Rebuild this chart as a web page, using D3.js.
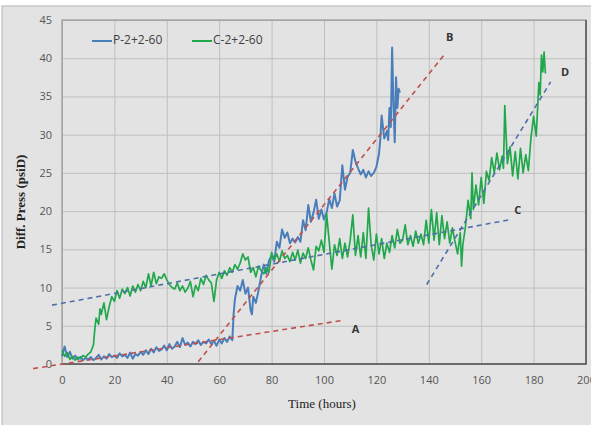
<!DOCTYPE html>
<html lang="en">
<head>
<meta charset="UTF-8">
<title>Diff. Press vs Time</title>
<script src="https://d3js.org/d3.v7.min.js"></script>
<style>
  body { margin: 0; padding: 0; background: #fff; }
  svg { display: block; }
  .tick text { font-family: "Open Sans", "Liberation Sans", sans-serif; font-size: 11px; fill: #555; }
  .grid line { stroke: #bfbfbf; stroke-width: 1; }
  .grid path { display: none; }
  .axis path { display: none; }
</style>
</head>
<body>
<div id="chart"></div>
<script>
// Series P-2+2-60 : [time (hours), diff. press (psiD)]
const pSeries = [
  [0,1.0],[1,2.3],[2,0.9],[3,1.6],[4,0.7],[5,1.1],[6,0.6],[7,0.9],[8,0.5],[9,0.8],
  [10,0.6],[11,0.9],[12,0.5],[13,0.8],[14,1.2],[15,0.6],[16,1.0],[17,0.7],[18,1.3],[19,0.9],
  [20,1.1],[21,0.8],[22,1.4],[23,1.0],[24,1.2],[25,0.8],[26,1.5],[27,0.7],[28,1.3],[29,1.1],
  [30,1.6],[31,1.2],[32,1.8],[33,1.3],[34,2.0],[35,1.5],[36,2.2],[37,1.7],[38,1.9],[39,2.4],
  [40,1.8],[41,2.6],[42,2.0],[43,2.3],[44,2.9],[45,2.2],[46,3.4],[47,2.5],[48,2.8],[49,2.3],
  [50,2.9],[51,2.6],[52,3.1],[53,2.5],[54,2.9],[55,2.7],[56,3.2],[57,2.6],[58,3.0],[59,2.4],
  [60,3.2],[61,2.7],[62,3.4],[63,2.9],[64,3.6],[65,3.1],[65.5,6.5],[66,8.5],[67,10.2],[68,9.6],
  [69,11.0],[70,9.2],[71,10.0],[72,7.0],[72.5,6.5],[73,8.8],[74,8.0],[75,9.6],[76,11.5],[77,13.0],
  [78,11.8],[79,13.5],[80,14.2],[81,13.4],[82,16.0],[83,15.2],[84,17.6],[85,16.5],[86,17.2],[87,15.8],
  [88,16.4],[89,15.9],[90,16.6],[91,16.0],[92,18.8],[93,17.5],[94,20.8],[95,18.6],[96,19.8],[97,21.5],
  [98,19.0],[99,20.2],[100,18.9],[101,19.8],[102,21.6],[103,20.4],[104,22.3],[105,20.6],[106,21.4],[107,26.0],
  [108,22.8],[109,24.5],[110,25.0],[111,28.0],[112,26.5],[113,25.6],[114,24.8],[115,25.4],[116,24.4],[117,25.2],
  [118,24.6],[119,25.0],[120,25.8],[121,27.5],[121.5,29.5],[122,32.5],[123,29.5],[124,30.5],[124.5,29.3],[125,33.5],
  [125.5,31.0],[126,41.4],[126.5,34.0],[127,29.0],[127.5,37.5],[128,33.5],[128.5,36.0],[129,35.5]
];

// Series C-2+2-60 : [time (hours), diff. press (psiD)]
const cSeries = [
  [0,1.8],[1,1.0],[2,1.5],[3,0.6],[4,1.0],[5,0.5],[6,0.9],[7,0.7],[8,1.1],[9,0.9],
  [10,1.3],[11,1.6],[12,2.5],[12.5,4.5],[13,6.0],[14,5.2],[14.5,7.2],[15,6.5],[16,8.0],[17,5.8],
  [18,7.5],[19,8.8],[20,8.2],[21,9.6],[22,8.6],[23,9.8],[24,9.2],[25,10.0],[26,8.9],[27,10.2],
  [28,9.4],[29,10.4],[30,9.6],[31,10.8],[32,10.0],[33,11.8],[34,10.2],[35,12.0],[36,10.5],[37,11.4],
  [38,11.2],[39,11.8],[40,11.0],[41,10.4],[42,10.0],[43,9.8],[44,10.6],[45,9.6],[46,10.2],[47,9.4],
  [48,9.9],[49,10.8],[50,8.8],[51,10.3],[52,9.6],[53,11.2],[54,10.4],[55,11.6],[56,11.0],[57,10.6],
  [58,8.2],[59,11.0],[60,12.0],[61,11.2],[62,12.2],[63,11.6],[64,12.6],[65,12.0],[66,13.0],[67,12.4],
  [68,13.2],[69,14.4],[70,13.6],[71,14.0],[72,12.0],[73,12.6],[74,11.4],[75,12.8],[76,12.2],[77,11.8],
  [78,12.6],[79,12.0],[80,14.6],[81,13.6],[82,14.4],[83,13.4],[84,14.8],[85,13.8],[86,14.2],[87,13.4],
  [88,14.6],[89,13.6],[90,14.9],[91,13.2],[92,14.5],[93,13.8],[94,15.2],[95,13.6],[96,12.3],[97,15.4],
  [98,14.8],[99,16.2],[100,14.6],[101,19.6],[102,16.0],[103,12.4],[104,15.6],[105,14.2],[106,16.4],[107,13.8],
  [108,15.8],[109,14.0],[110,16.2],[111,19.5],[112,14.2],[113,16.8],[114,14.0],[115,17.2],[116,13.8],[117,20.4],
  [118,15.6],[119,13.6],[120,17.0],[121,14.4],[122,16.4],[123,13.8],[124,15.8],[125,14.6],[126,16.8],[127,15.2],
  [128,17.6],[129,15.8],[130,16.2],[131,18.2],[132,15.6],[133,16.8],[134,15.4],[135,17.4],[136,15.8],[137,17.0],
  [138,15.6],[139,18.8],[140,15.8],[141,20.2],[142,16.2],[143,19.8],[144,15.6],[145,19.4],[146,16.4],[147,18.6],
  [148,15.8],[149,17.8],[150,16.0],[151,14.4],[152,17.2],[152.5,12.8],[153,15.6],[154,18.0],[155,21.4],[156,19.0],
  [156.5,25.0],[157,20.2],[158,23.4],[159,20.8],[160,24.4],[161,21.0],[162,25.2],[163,24.0],[164,27.0],[165,25.0],
  [166,27.6],[167,25.4],[168,27.2],[168.5,25.6],[169,33.8],[170,26.2],[171,28.4],[172,24.6],[173,27.8],[174,24.2],
  [175,28.2],[176,25.0],[177,27.4],[178,25.3],[179,29.6],[180,32.4],[181,29.8],[182,36.8],[182.5,35.2],[183,40.4],
  [183.5,38.2],[184,40.8],[184.5,38.0]
];

// dashed trend lines: [[t0, v0], [t1, v1]]
const trendLines = [
  { name: "A", pts: [[-11, -0.6], [107, 5.7]], color: "#c0504d", label: [112, 4.4] },
  { name: "B", pts: [[52, 0.3], [146, 40.5]], color: "#c0504d", label: [148, 42.6] },
  { name: "C", pts: [[-3.8, 7.7], [171.3, 18.9]], color: "#4f6fa8", label: [174, 20.0] },
  { name: "D", pts: [[139.2, 10.4], [186.5, 36.9]], color: "#4f6fa8", label: [192, 38.0] }
];

const legendItems = [
  { name: "P-2+2-60", color: "#4a7ebb" },
  { name: "C-2+2-60", color: "#21a84c" }
];

const xTicks = d3.range(0, 201, 20);
const yTicks = d3.range(0, 46, 5);

const W = 591, H = 425;
const plot = { left: 62, right: 586, top: 20, bottom: 364 };

const svg = d3.select("#chart").append("svg")
  .attr("width", W).attr("height", H);

// chart area background
svg.append("rect").attr("width", W).attr("height", H).attr("fill", "#ffffff");
svg.append("rect").attr("x", 2).attr("y", 6).attr("width", W).attr("height", H)
  .attr("fill", "#e3e3e3").attr("stroke", "#c8c8c8").attr("stroke-width", 1.5);

const x = d3.scaleLinear().domain([0, 200]).range([plot.left, plot.right]);
const y = d3.scaleLinear().domain([0, 45]).range([plot.bottom, plot.top]);

// gridlines
svg.append("g").attr("class", "grid")
  .attr("transform", `translate(0,${plot.bottom})`)
  .call(d3.axisBottom(x).tickValues(xTicks).tickSize(-(plot.bottom - plot.top)).tickFormat(""));
svg.append("g").attr("class", "grid")
  .attr("transform", `translate(${plot.left},0)`)
  .call(d3.axisLeft(y).tickValues(yTicks).tickSize(-(plot.right - plot.left)).tickFormat(""));

// plot border (darker on right and bottom)
svg.append("rect")
  .attr("x", plot.left).attr("y", plot.top)
  .attr("width", plot.right - plot.left).attr("height", plot.bottom - plot.top)
  .attr("fill", "none").attr("stroke", "#8c8c8c").attr("stroke-width", 1);
svg.append("path")
  .attr("d", `M${plot.right},${plot.top}V${plot.bottom}H${plot.left}`)
  .attr("fill", "none").attr("stroke", "#555").attr("stroke-width", 1.5);

// axes labels
svg.append("g").attr("class", "axis")
  .attr("transform", `translate(0,${plot.bottom})`)
  .call(d3.axisBottom(x).tickValues(xTicks).tickSize(0).tickPadding(12));
svg.append("g").attr("class", "axis")
  .attr("transform", `translate(${plot.left},0)`)
  .call(d3.axisLeft(y).tickValues(yTicks).tickSize(0).tickPadding(10));

// series
const line = d3.line().x(d => x(d[0])).y(d => y(d[1]));
svg.append("path").datum(pSeries)
  .attr("d", line).attr("fill", "none")
  .attr("stroke", legendItems[0].color).attr("stroke-width", 2).attr("stroke-linejoin", "round");
svg.append("path").datum(cSeries)
  .attr("d", line).attr("fill", "none")
  .attr("stroke", legendItems[1].color).attr("stroke-width", 1.7).attr("stroke-linejoin", "round");

// trend lines
trendLines.forEach(t => {
  svg.append("path").datum(t.pts)
    .attr("d", line).attr("fill", "none")
    .attr("stroke", t.color).attr("stroke-width", 1.6)
    .attr("stroke-dasharray", "5,4");
  svg.append("text")
    .attr("x", x(t.label[0])).attr("y", y(t.label[1]))
    .attr("text-anchor", "middle").attr("dominant-baseline", "middle")
    .attr("font-family", "Open Sans, Liberation Sans, sans-serif")
    .attr("font-size", 11).attr("font-weight", "bold").attr("fill", "#333")
    .text(t.name);
});

// legend
const legend = svg.append("g").attr("transform", "translate(92,41)");
legendItems.forEach((d, i) => {
  const g = legend.append("g").attr("transform", `translate(${i * 100},0)`);
  g.append("line").attr("x1", 0).attr("x2", 20).attr("y1", 0).attr("y2", 0)
    .attr("stroke", d.color).attr("stroke-width", 2);
  g.append("text").attr("x", 21).attr("y", 0).attr("dominant-baseline", "middle")
    .attr("font-family", "Open Sans, Liberation Sans, sans-serif")
    .attr("font-size", 12).attr("fill", "#404040").text(d.name);
});

// axis titles
svg.append("text")
  .attr("transform", `translate(22,${(plot.top + plot.bottom) / 2 + 10}) rotate(-90)`)
  .attr("text-anchor", "middle").attr("dominant-baseline", "middle")
  .attr("font-family", "Liberation Serif, DejaVu Serif, serif")
  .attr("font-size", 13).attr("font-weight", "bold").attr("fill", "#222")
  .text("Diff. Press (psiD)");
svg.append("text")
  .attr("x", 322).attr("y", 405)
  .attr("text-anchor", "middle").attr("dominant-baseline", "middle")
  .attr("font-family", "Liberation Serif, DejaVu Serif, serif")
  .attr("font-size", 13).attr("fill", "#222")
  .text("Time (hours)");
</script>
</body>
</html>
